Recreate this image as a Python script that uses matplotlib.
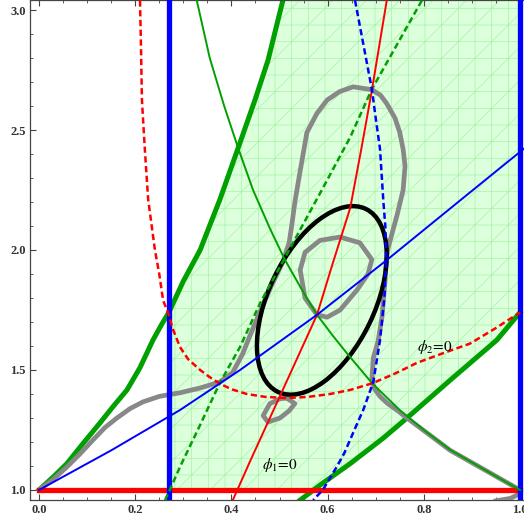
import numpy as np
import matplotlib
matplotlib.use('Agg')
import matplotlib.pyplot as plt
from matplotlib.patches import Ellipse, Polygon
from matplotlib import transforms

plt.rcParams['mathtext.fontset'] = 'stix'
plt.rcParams['hatch.linewidth'] = 0.5

# ---- curves (x, y) ----
green_left_x = [0.0, 0.03, 0.058, 0.09, 0.127, 0.155, 0.183, 0.21, 0.237, 0.255, 0.27, 0.30, 0.335,
                0.376, 0.414, 0.449, 0.476, 0.507]
green_left_y = [1.0, 1.055, 1.11, 1.19, 1.28, 1.35, 1.417, 1.51, 1.625, 1.69, 1.74, 1.87, 2.0,
                2.21, 2.425, 2.625, 2.79, 3.04]

green_right_x = [0.543, 0.584, 0.647, 0.715, 0.765, 0.855, 0.952, 1.0]
green_right_y = [0.958, 1.02, 1.11, 1.215, 1.30, 1.458, 1.625, 1.74]

green_thin_x = [0.328, 0.355, 0.385, 0.414, 0.445, 0.48, 0.511, 0.545, 0.578, 0.61, 0.64, 0.692,
                0.75, 0.80, 0.855, 0.93, 1.0]
green_thin_y = [3.04, 2.80, 2.60, 2.425, 2.25, 2.09, 1.96, 1.84, 1.73, 1.645, 1.57, 1.446,
                1.333, 1.25, 1.167, 1.08, 1.0]

green_dash_x = [0.262, 0.272, 0.293, 0.33, 0.376, 0.418, 0.46, 0.52, 0.588, 0.647, 0.692, 0.796]
green_dash_y = [0.958, 1.0, 1.096, 1.25, 1.446, 1.596, 1.78, 2.0, 2.25, 2.47, 2.67, 3.04]

red_x = [0.403, 0.44, 0.48, 0.52, 0.578, 0.61, 0.647, 0.67, 0.692, 0.723]
red_y = [0.958, 1.125, 1.30, 1.475, 1.73, 1.94, 2.175, 2.42, 2.665, 3.04]

red_dash_x = [0.21, 0.212, 0.214, 0.22, 0.227, 0.241, 0.25, 0.258, 0.268, 0.279, 0.293, 0.31,
              0.335, 0.355, 0.376, 0.40, 0.432, 0.47, 0.515, 0.56, 0.605, 0.647, 0.692, 0.74,
              0.786, 0.84, 0.896, 0.95, 1.0]
red_dash_y = [3.04, 2.85, 2.625, 2.42, 2.21, 2.0, 1.9, 1.79, 1.74, 1.667, 1.596, 1.545,
              1.5, 1.47, 1.443, 1.42, 1.40, 1.388, 1.383, 1.388, 1.40, 1.417, 1.444, 1.485,
              1.53, 1.57, 1.61, 1.675, 1.74]

blue_x = [0.0, 0.15, 0.293, 0.418, 0.578, 0.723, 0.896, 1.01]
blue_y = [1.0, 1.165, 1.333, 1.5, 1.73, 1.958, 2.24, 2.425]

blue_dash_x = [0.657, 0.692, 0.70, 0.709, 0.716, 0.72, 0.722, 0.718, 0.709, 0.695, 0.674, 0.66,
               0.647, 0.635, 0.62, 0.605, 0.59, 0.57]
blue_dash_y = [3.04, 2.67, 2.55, 2.42, 2.2, 2.10, 1.96, 1.80, 1.625, 1.45, 1.333, 1.27,
               1.21, 1.155, 1.10, 1.05, 1.0, 0.958]

gray_x = [0.0, 0.03, 0.058, 0.085, 0.112, 0.137, 0.162, 0.19, 0.216, 0.25, 0.293, 0.335, 0.376,
          0.403, 0.424, 0.44, 0.459, 0.483, 0.507, 0.52, 0.526, 0.532, 0.543, 0.557, 0.578,
          0.599, 0.625, 0.653, 0.692, 0.71, 0.723, 0.74, 0.75, 0.757, 0.761, 0.757, 0.745,
          0.726, 0.722, 0.719, 0.713, 0.705, 0.695, 0.692, 0.698, 0.709, 0.725, 0.744, 0.765,
          0.855, 0.93, 1.0, 0.995, 0.98, 0.95]
gray_y = [1.0, 1.045, 1.096, 1.15, 1.208, 1.26, 1.30, 1.34, 1.367, 1.39, 1.405, 1.425, 1.45,
          1.49, 1.57, 1.65, 1.74, 1.85, 1.95, 2.03, 2.11, 2.20, 2.33, 2.49, 2.57,
          2.625, 2.66, 2.68, 2.668, 2.645, 2.61, 2.55, 2.49, 2.42, 2.35, 2.25, 2.15,
          2.01, 1.96, 1.86, 1.72, 1.62, 1.55, 1.458, 1.42, 1.39, 1.36, 1.333, 1.30,
          1.165, 1.08, 1.0, 0.98, 0.965, 0.955]

loop_x = [0.578, 0.553, 0.543, 0.553, 0.584, 0.626, 0.667, 0.692, 0.684, 0.661, 0.626, 0.599, 0.578]
loop_y = [1.73, 1.80, 1.917, 1.99, 2.04, 2.054, 2.03, 1.96, 1.90, 1.833, 1.75, 1.72, 1.73]

small_x = [0.515, 0.532, 0.52, 0.501, 0.476, 0.466, 0.48, 0.501, 0.515]
small_y = [1.383, 1.36, 1.33, 1.30, 1.283, 1.31, 1.36, 1.38, 1.383]

# black ellipse: centre in data units, axes / angle in screen-like units
ell_center = (0.588, 1.79)
ell_width, ell_height, ell_angle = 0.422, 0.220, 64.3

x_ticks = [0.0, 0.2, 0.4, 0.6, 0.8, 1.0]
y_ticks = [1.0, 1.5, 2.0, 2.5, 3.0]
x_left_blue = 0.27
x_right_blue = 1.0
y_red = 1.0

xlim = (-0.0187, 1.0083)
ylim = (0.9583, 3.0417)

fig = plt.figure(figsize=(5.24, 5.21), dpi=100)
ax = fig.add_axes([30 / 524, 21 / 521, 494 / 524, 500 / 521])
ax.set_xlim(*xlim)
ax.set_ylim(*ylim)

# shaded region between the thick green curves, right of the blue line
gl = [(x, y) for x, y in zip(green_left_x, green_left_y) if x > x_left_blue]
gr = [(x, y) for x, y in zip(green_right_x, green_right_y) if y >= y_red]
poly = [(x_left_blue, y_red), (x_left_blue, 1.74)] + gl + [(x_right_blue, ylim[1] + 0.1)]
poly += gr[::-1] + [(gr[0][0], y_red)]
ax.add_patch(Polygon(poly, closed=True, facecolor='#dcffdc', edgecolor='#a8f3a8',
                     lw=0, hatch='+/', zorder=1))

ax.plot(green_left_x, green_left_y, color='#00a000', lw=3.6, zorder=2, solid_joinstyle='round')
ax.plot(green_right_x, green_right_y, color='#00a000', lw=3.6, zorder=2, solid_joinstyle='round')

ax.plot(gray_x, gray_y, color='#888888', lw=3.4, zorder=3, solid_joinstyle='round')
ax.plot(loop_x, loop_y, color='#888888', lw=3.4, zorder=3, solid_joinstyle='round')
ax.plot(small_x, small_y, color='#888888', lw=3.4, zorder=3, solid_joinstyle='round')

sy = 481 / 240  # ratio of pixel scales (x over y)
ell_tr = transforms.Affine2D().scale(1, sy).translate(*ell_center) + ax.transData
ax.add_patch(Ellipse((0, 0), ell_width, ell_height, angle=ell_angle, fill=False,
                     edgecolor='black', lw=3.2, transform=ell_tr, zorder=4))

ax.axhline(y_red, xmin=(0 - xlim[0]) / (xlim[1] - xlim[0]),
           xmax=(x_right_blue - xlim[0]) / (xlim[1] - xlim[0]),
           color='#ff0000', lw=3.8, zorder=5)
ax.axvline(x_left_blue, color='#0000ff', lw=3.8, zorder=5)
ax.axvline(x_right_blue, color='#0000ff', lw=3.8, zorder=5)

dash = (0, (2.5, 1.4))
ax.plot(green_thin_x, green_thin_y, color='#00a000', lw=1.4, zorder=6)
ax.plot(green_dash_x, green_dash_y, color='#00a000', lw=1.8, ls=dash, zorder=6)
ax.plot(red_x, red_y, color='#ff0000', lw=1.4, zorder=6)
ax.plot(red_dash_x, red_dash_y, color='#ff0000', lw=1.8, ls=dash, zorder=6)
ax.plot(blue_x, blue_y, color='#0000ff', lw=1.4, zorder=6)
ax.plot(blue_dash_x, blue_dash_y, color='#0000ff', lw=1.8, ls=dash, zorder=6)

ax.text(0.501, 1.104, r'$\phi_1\!=\!0$', fontsize=11, ha='center', va='center', zorder=7)
ax.text(0.823, 1.596, r'$\phi_2\!=\!0$', fontsize=11, ha='center', va='center', zorder=7)

# frame / ticks
ax.spines['right'].set_visible(False)
for s in ['left', 'bottom', 'top']:
    ax.spines[s].set_color('#444444')
    ax.spines[s].set_linewidth(0.9)
ax.set_xticks(x_ticks)
ax.set_yticks(y_ticks)
ax.set_xticklabels(['%.1f' % v for v in x_ticks])
ax.set_yticklabels(['%.1f' % v for v in y_ticks])
ax.set_xticks(np.arange(0.05, 1.0, 0.05), minor=True)
ax.set_yticks(np.arange(1.1, 3.0, 0.1), minor=True)
ax.tick_params(which='both', direction='in', top=True, right=False, color='#444444')
ax.tick_params(which='major', length=4, width=0.8, labelsize=9, labelcolor='#333333', pad=3)
ax.tick_params(which='minor', length=2, width=0.6)
for lab in ax.get_xticklabels() + ax.get_yticklabels():
    lab.set_family('Liberation Serif')
    lab.set_fontweight('bold')

fig.savefig('out.png', dpi=100)
